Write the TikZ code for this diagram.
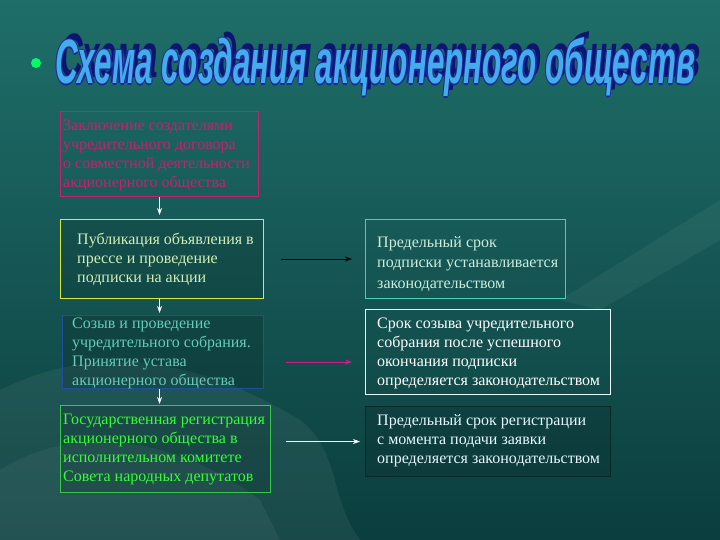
\documentclass[tikz,border=0pt]{standalone}
\usepackage{fontspec}
\setmainfont{Liberation Serif}
\newfontfamily\titelfont{Liberation Sans}
\usetikzlibrary{arrows.meta, calc}

\definecolor{hgoben}{HTML}{1F6E69}
\definecolor{hgunten}{HTML}{0B3E3E}
\definecolor{titelblau}{HTML}{44ACEC}
\definecolor{titelrand}{HTML}{1A2A9A}
\definecolor{titelschatten}{HTML}{0E1570}
\definecolor{rot}{HTML}{C8206E}
\definecolor{gelb}{HTML}{D8E840}
\definecolor{blau}{HTML}{1E4FA0}
\definecolor{gruen}{HTML}{38C848}
\definecolor{tuerkis}{HTML}{48D0B4}
\definecolor{dunkel}{HTML}{082828}

\tikzset{
    kasten/.style={draw, line width=1.1pt, inner sep=0pt, anchor=north west},
    txt/.style={inner sep=0pt, anchor=west, align=left,
        font=\fontsize{16}{19}\selectfont},
    pfeil/.style={-{Stealth[length=7pt,width=5pt]}, line width=1pt}
}

\begin{document}
\begin{tikzpicture}[x=1pt,y=-1pt]
\useasboundingbox (0,0) rectangle (720,540);

% Hintergrund
\shade[top color=hgoben, bottom color=hgunten] (0,0) rectangle (720,540);
\fill[white, opacity=0.06] (0,540) -- (0,390) .. controls (100,340) and (200,360) .. (300,420)
    .. controls (340,450) and (330,500) .. (360,540) -- cycle;
\fill[white, opacity=0.05] (0,470) .. controls (80,420) and (180,440) .. (260,500)
    -- (280,540) -- (0,540) -- cycle;
\fill[white, opacity=0.05] (560,300) -- (720,200) -- (720,240) -- (600,310) -- cycle;

% Titel
\fill[green!60!cyan] (36,63) circle (5);
\node[anchor=base west, inner sep=0pt, text=titelschatten] (titelS) at (60,78)
    {\resizebox{640pt}{46pt}{\titelfont\bfseries\itshape Схема создания акционерного обществ}};
\foreach \dx/\dy [count=\i] in {-1.2/0, 1.2/0, 0/-1.2, 0/1.2}
    \node[anchor=base west, inner sep=0pt, text=titelrand] (titelR\i) at (55+\dx,84+\dy)
        {\resizebox{640pt}{46pt}{\titelfont\bfseries\itshape Схема создания акционерного обществ}};
\node[anchor=base west, inner sep=0pt, text=titelblau] (titel) at (55,84)
    {\resizebox{640pt}{46pt}{\titelfont\bfseries\itshape Схема создания акционерного обществ}};

% Kästen links
\node[kasten, draw=rot, minimum width=198, minimum height=85] (zakl) at (60,111) {};
\node[kasten, draw=gelb, fill=black, fill opacity=0.12, minimum width=203, minimum height=79] (publ) at (60,219) {};
\node[kasten, draw=blau, fill=black, fill opacity=0.15, minimum width=201, minimum height=73] (sozyv) at (62,315) {};
\node[kasten, draw=gruen, fill=black, fill opacity=0.1, minimum width=210, minimum height=87] (registr) at (60,405) {};

% Kästen rechts
\node[kasten, draw=tuerkis, minimum width=200, minimum height=79] (srok1) at (365,219) {};
\node[kasten, draw=white!92!cyan, minimum width=245, minimum height=85] (srok2) at (365,309) {};
\node[kasten, draw=dunkel, fill=black, fill opacity=0.12, minimum width=245, minimum height=70] (srok3) at (365,406) {};

% Texte
\node[txt, text=rot] (zaklT) at (63,155)
    {Заключение создателями\\учредительного договора\\о совместной деятельности\\акционерного общества};
\node[txt, text=yellow!40!green!30!white] (publT) at (77,259)
    {Публикация объявления в\\прессе и проведение\\подписки на акции};
\node[txt, text=cyan!50!green!60!white] (sozyvT) at (72,353)
    {Созыв и проведение\\учредительного собрания.\\Принятие устава\\акционерного общества};
\node[txt, text=green!80!white] (registrT) at (63,449)
    {Государственная регистрация\\акционерного общества в\\исполнительном комитете\\Совета народных депутатов};
\node[txt, text=cyan!30!green!20!white, font=\fontsize{16}{20.5}\selectfont] (srok1T) at (377,264)
    {Предельный срок\\подписки устанавливается\\законодательством};
\node[txt, text=white] (srok2T) at (377,353)
    {Срок созыва учредительного\\собрания после успешного\\окончания подписки\\определяется законодательством};
\node[txt, text=cyan!10!white] (srok3T) at (377,441)
    {Предельный срок регистрации\\с момента подачи заявки\\определяется законодательством};

% Pfeile nach unten
\draw[pfeil, white, shorten >=4pt] (zakl.south) -- (zakl.south |- publ.north);
\draw[pfeil, white, shorten >=2pt] (zakl.south |- publ.south) -- (zakl.south |- sozyv.north);
\draw[pfeil, white, shorten >=1pt] (zakl.south |- sozyv.south) -- (zakl.south |- registr.north);

% Pfeile nach rechts
\draw[pfeil, black, shorten <=17pt, shorten >=13pt] (publ.east) -- (srok1.west);
\draw[pfeil, rot!80!magenta, shorten <=22pt, shorten >=13pt] ($(sozyv.east)+(0,10)$) -- ($(srok2.west)+(0,10)$);
\draw[pfeil, white, shorten <=15pt, shorten >=5pt] (registr.east |- srok3.west) -- (srok3.west);
\end{tikzpicture}
\end{document}
